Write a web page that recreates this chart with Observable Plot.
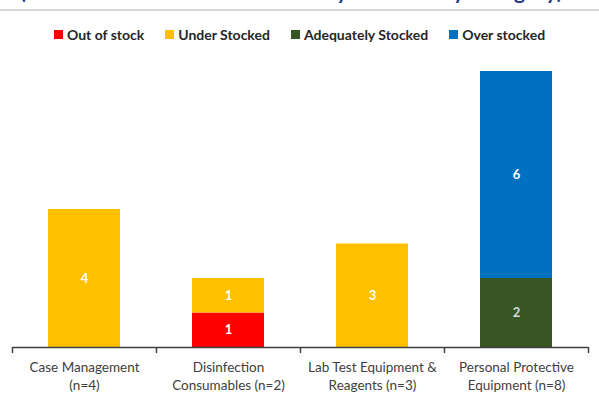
<!DOCTYPE html>
<html>
<head>
<meta charset="utf-8">
<script src="https://cdn.jsdelivr.net/npm/d3@7"></script>
<script src="https://cdn.jsdelivr.net/npm/@observablehq/plot@0.6"></script>
<style>
  html, body { margin: 0; padding: 0; background: #fff; width: 599px; height: 404px; overflow: hidden; font-family: Lato, "Open Sans", sans-serif; }
  #header { position: relative; width: 599px; height: 50px; overflow: hidden; }
  #title { position: absolute; left: 20px; top: -22px; font-size: 21px; line-height: 26px; font-weight: bold; color: #1f3c88; white-space: nowrap; letter-spacing: 0.3px; }
  #rule { position: absolute; left: 0; top: 9px; width: 599px; height: 2px; background: #d6d6d6; }
  #legend { position: absolute; left: 0; top: 26px; width: 599px; display: flex; justify-content: center; gap: 21px; font-size: 14px; font-weight: bold; color: #262626; }
  .item { display: flex; align-items: center; gap: 4px; }
  .sw { width: 9px; height: 9px; display: inline-block; }
</style>
</head>
<body>
<div id="header">
  <div id="title">(Stock Status of Essential Items by Commodity Category)</div>
  <div id="rule"></div>
  <div id="legend"></div>
</div>
<div id="chart"></div>
<script>
const categories = [
  "Case Management\n(n=4)",
  "Disinfection\nConsumables (n=2)",
  "Lab Test Equipment &\nReagents (n=3)",
  "Personal Protective\nEquipment (n=8)"
];
const seriesNames = ["Out of stock", "Under Stocked", "Adequately Stocked", "Over stocked"];
const seriesColors = ["#ff0000", "#ffc000", "#375623", "#0070c0"];
const labelColors = ["#ffffff", "#ffffff", "#d9d9d9", "#ffffff"];
const outOfStock = [0, 1, 0, 0];
const underStocked = [4, 1, 3, 0];
const adequatelyStocked = [0, 0, 0, 2];
const overStocked = [0, 0, 0, 6];

const seriesValues = [outOfStock, underStocked, adequatelyStocked, overStocked];
const data = [];
seriesNames.forEach((s, si) => {
  categories.forEach((c, ci) => {
    data.push({category: c, series: s, value: seriesValues[si][ci], labelColor: labelColors[si]});
  });
});
const nonZero = data.filter(d => d.value > 0);

// legend
const legend = document.getElementById("legend");
seriesNames.forEach((s, i) => {
  const item = document.createElement("div");
  item.className = "item";
  item.innerHTML = `<span class="sw" style="background:${seriesColors[i]}"></span><span>${s}</span>`;
  legend.appendChild(item);
});

const last = categories[categories.length - 1];

const chart = Plot.plot({
  width: 599,
  height: 354,
  marginLeft: 12,
  marginRight: 11,
  marginTop: 21,
  marginBottom: 57,
  style: {fontFamily: "Lato, 'Open Sans', sans-serif", background: "white"},
  x: {domain: categories, paddingInner: 0.5, paddingOuter: 0.25, label: null},
  y: {domain: [0, 8], axis: null},
  color: {domain: seriesNames, range: seriesColors},
  marks: [
    Plot.barY(nonZero, Plot.stackY({x: "category", y: "value", fill: "series", order: seriesNames})),
    Plot.text(nonZero, Plot.stackY({x: "category", y: "value", text: "value", order: seriesNames, fill: "labelColor", fontSize: 13, fontWeight: "bold"})),
    Plot.ruleY([0], {stroke: "#404040", strokeWidth: 1.5}),
    Plot.ruleX(categories, {x: d => d, y1: 0, y2: 0, dx: -72, insetBottom: -6, stroke: "#404040", strokeWidth: 1.5}),
    Plot.ruleX([last], {x: d => d, y1: 0, y2: 0, dx: 72, insetBottom: -6, stroke: "#404040", strokeWidth: 1.5}),
    Plot.axisX({tickSize: 0, tickPadding: 12, fontSize: 13.5, lineHeight: 1.32, fill: "#404040", label: null})
  ]
});
document.getElementById("chart").appendChild(chart);
</script>
</body>
</html>
